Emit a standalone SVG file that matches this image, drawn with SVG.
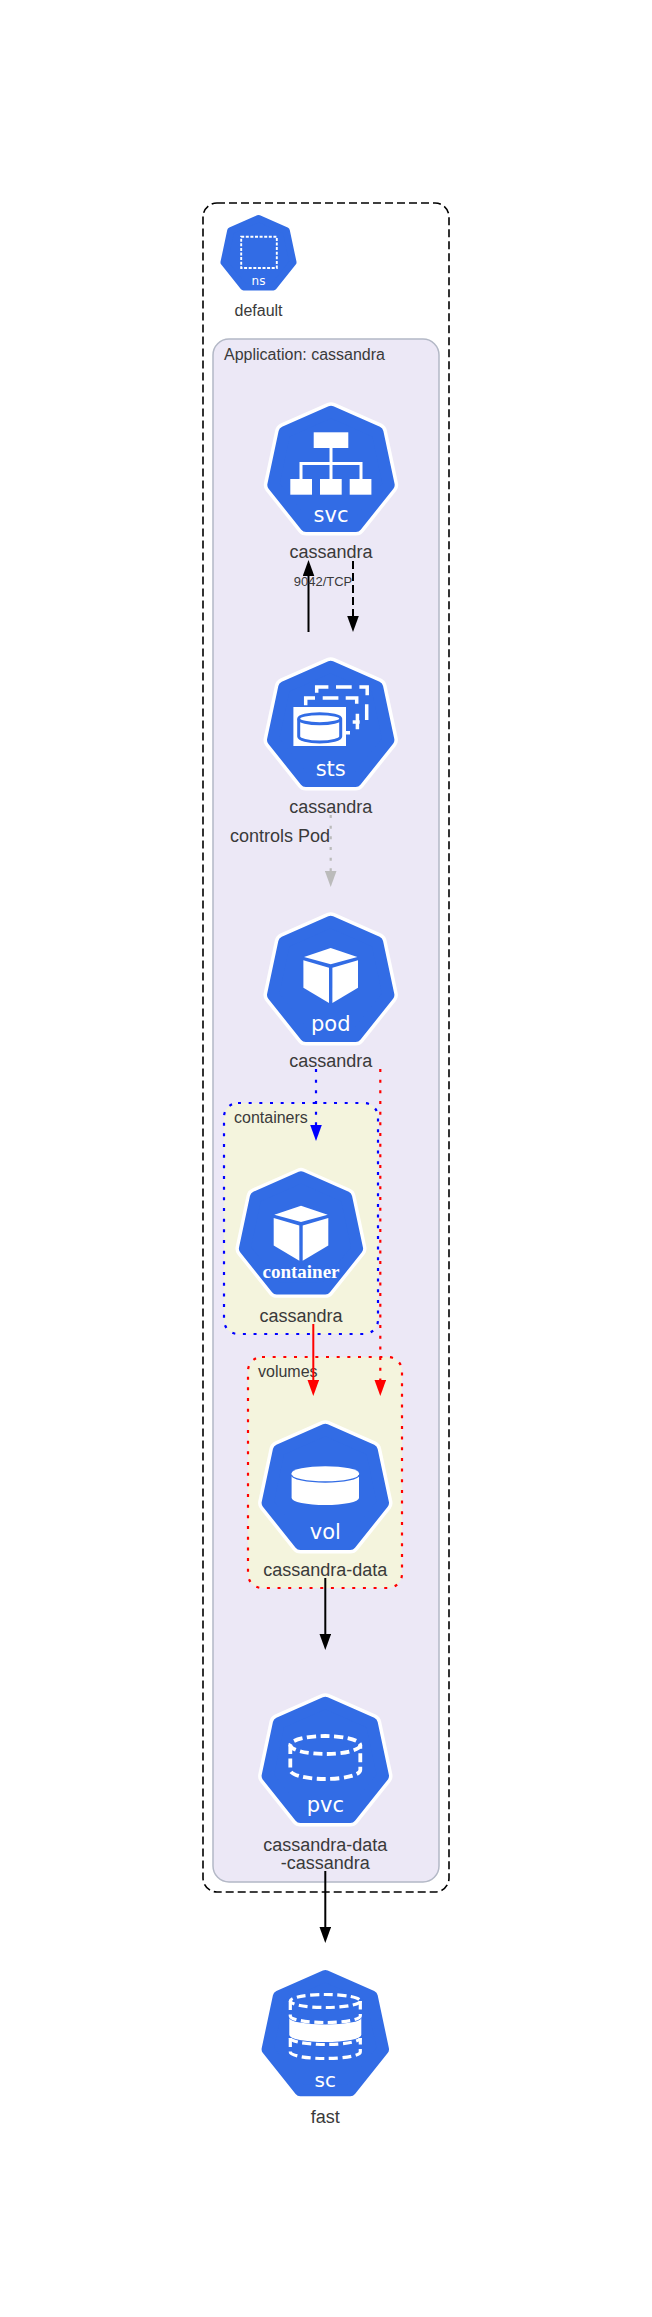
<svg xmlns="http://www.w3.org/2000/svg" xmlns:xlink="http://www.w3.org/1999/xlink" width="652" height="2317" viewBox="0 0 652 2317">
<style>
text{font-family:"Liberation Sans",Arial,sans-serif;fill:#3a3a3a}
.lbl{font-size:18px;text-anchor:middle}
.clbl{font-size:16px}
.ico{font-family:"DejaVu Sans",sans-serif;font-size:21px;fill:#fff;text-anchor:middle}
.w{fill:#fff;stroke:none}
.ln{fill:none;stroke:#fff;stroke-width:3}
.dl{fill:none;stroke:#fff;stroke-width:3.5}
.dsh{fill:none;stroke:#fff;stroke-width:3.8;stroke-dasharray:9 4.5}
.cn{fill:none;stroke-width:2}
.dot{stroke-width:2.2;stroke-dasharray:3 7.67}
</style>
<defs>
<polygon id="hb" points="0,9.7 46.5,30.2 57.7,83 25,124 -25,124 -57.7,83 -46.5,30.2" fill="#326ce5" stroke="#326ce5" stroke-width="12" stroke-linejoin="round"/>
<polygon id="hw" points="0,9.7 46.5,30.2 57.7,83 25,124 -25,124 -57.7,83 -46.5,30.2" fill="#fff" stroke="#fff" stroke-width="19" stroke-linejoin="round"/>
<g id="cube">
<polygon class="w" points="0,36 26.7,45 0,52.3 -26.7,45"/>
<polygon class="w" points="-27.3,48.3 -1.7,55.7 -1.7,91 -27.3,75.7"/>
<polygon class="w" points="27.3,48.3 1.7,55.7 1.7,91 27.3,75.7"/>
</g>
<marker id="ak" markerUnits="userSpaceOnUse" markerWidth="16" markerHeight="12" refX="1" refY="6" orient="auto"><path d="M0,0.2 L16,6 L0,11.8Z" fill="#000"/></marker>
<marker id="ag" markerUnits="userSpaceOnUse" markerWidth="16" markerHeight="12" refX="1" refY="6" orient="auto"><path d="M0,0.2 L16,6 L0,11.8Z" fill="#bbb"/></marker>
<marker id="ab" markerUnits="userSpaceOnUse" markerWidth="16" markerHeight="12" refX="1" refY="6" orient="auto"><path d="M0,0.2 L16,6 L0,11.8Z" fill="#00f"/></marker>
<marker id="ar" markerUnits="userSpaceOnUse" markerWidth="16" markerHeight="12" refX="1" refY="6" orient="auto"><path d="M0,0.2 L16,6 L0,11.8Z" fill="#f00"/></marker>
</defs>
<rect width="652" height="2317" fill="#fff"/>
<g id="clusters">
<g id="cluster-default"><rect x="203" y="203" width="246" height="1689" rx="14" fill="#fff" stroke="#000" stroke-width="1.6" stroke-dasharray="8 4"/></g>
<g id="cluster-app"><rect x="213" y="339" width="226" height="1543" rx="16" fill="#ece8f6" stroke="#b3b8c6" stroke-width="1.5"/>
<text class="clbl" x="224" y="360">Application: cassandra</text></g>
<g id="cluster-containers"><rect x="224" y="1103" width="154" height="231" rx="14" fill="#f4f4dd" stroke="#00f" stroke-width="2.2" stroke-dasharray="3 7.67"/>
<text class="clbl" x="234" y="1123">containers</text></g>
<g id="cluster-volumes"><rect x="248" y="1357" width="154" height="231" rx="14" fill="#f4f4dd" stroke="#f00" stroke-width="2.2" stroke-dasharray="3 7.67"/>
<text class="clbl" x="258" y="1377">volumes</text></g>
</g>
<g id="connectors">
<path class="cn" stroke="#000" d="M308.5,632V575" marker-end="url(#ak)"/>
<path class="cn" stroke="#000" stroke-dasharray="8 4" d="M353,561V617" marker-end="url(#ak)"/>
<path class="cn dot" stroke="#bbb" d="M330.7,815V872" marker-end="url(#ag)"/>
<path class="cn dot" stroke="#00f" d="M316,1069V1126" marker-end="url(#ab)"/>
<path class="cn dot" stroke="#f00" d="M380.3,1069V1381" marker-end="url(#ar)"/>
<path class="cn" stroke="#f00" d="M313.3,1324V1381" marker-end="url(#ar)"/>
<path class="cn" stroke="#000" d="M325.3,1578V1635" marker-end="url(#ak)"/>
<path class="cn" stroke="#000" d="M325.3,1871V1928" marker-end="url(#ak)"/>
<text x="323" y="586" font-size="13" text-anchor="middle">9042/TCP</text>
<text x="230" y="842" font-size="18">controls Pod</text>
</g>
<g id="node-ns" transform="translate(258.5,215)">
<use xlink:href="#hb" href="#hb" transform="translate(0,-2.2) scale(.597)"/>
<rect x="-17.3" y="21.7" width="35.6" height="31.3" fill="none" stroke="#fff" stroke-width="1.9" stroke-dasharray="3 1.6"/>
<text class="ico" y="70" style="font-size:12px">ns</text>
<text class="lbl" y="101" style="font-size:16px">default</text>
</g>
<g id="node-svc" transform="translate(331,402)">
<use xlink:href="#hw" href="#hw"/><use xlink:href="#hb" href="#hb"/>
<rect class="w" x="-17.3" y="30.3" width="34.6" height="15.7"/>
<rect class="w" x="-40.7" y="77" width="21.7" height="15.7"/>
<rect class="w" x="-11" y="77" width="21.7" height="15.7"/>
<rect class="w" x="18.7" y="77" width="21.7" height="15.7"/>
<path class="ln" d="M0,46V77M-30,77V61.5H30V77"/>
<text class="ico" y="120">svc</text>
<text class="lbl" y="156">cassandra</text>
</g>
<g id="node-sts" transform="translate(330.7,657)">
<use xlink:href="#hw" href="#hw"/><use xlink:href="#hb" href="#hb"/>
<path class="dl" d="M-14,35.7V30H-2.3M5.3,30H21M28.7,30H36.5V38.3M36,47.3V63M-25,48.3V41H-15.7M-8,41H7.7M15,41H26V46.7M26.7,56.7V72.3M22,65H29M15,75.7H19.3"/>
<rect class="w" x="-37.3" y="50" width="52.6" height="39"/>
<path d="M-32,61.7V79.5A21,5.5 0 0 0 10,79.5V61.7" fill="#fff" stroke="#326ce5" stroke-width="3"/>
<ellipse cx="-11" cy="61.7" rx="21" ry="5" fill="#fff" stroke="#326ce5" stroke-width="3"/>
<text class="ico" y="119">sts</text>
<text class="lbl" y="156">cassandra</text>
</g>
<g id="node-pod" transform="translate(330.7,912)">
<use xlink:href="#hw" href="#hw"/><use xlink:href="#hb" href="#hb"/>
<use xlink:href="#cube" href="#cube"/>
<text class="ico" y="119">pod</text>
<text class="lbl" y="155">cassandra</text>
</g>
<g id="node-container" transform="translate(301,1167.7)">
<use xlink:href="#hw" href="#hw" transform="scale(.975)"/><use xlink:href="#hb" href="#hb" transform="scale(.975)"/>
<use xlink:href="#cube" href="#cube" y="2"/>
<text y="110" text-anchor="middle" style="font-family:'Liberation Serif',serif;font-size:19px;font-weight:bold;fill:#fff">container</text>
<text class="lbl" y="154">cassandra</text>
</g>
<g id="node-vol" transform="translate(325.3,1420)">
<use xlink:href="#hw" href="#hw"/><use xlink:href="#hb" href="#hb"/>
<path class="w" d="M-33.7,54V78A33.7,7 0 0 0 33.7,78V54Z"/>
<path d="M-33.7,55A33.7,7 0 0 0 33.7,55" fill="none" stroke="#326ce5" stroke-width="1.3"/>
<ellipse class="w" cx="0" cy="53.3" rx="33.7" ry="7"/>
<text class="ico" y="119">vol</text>
<text class="lbl" y="156">cassandra-data</text>
</g>
<g id="node-pvc" transform="translate(325.3,1693)">
<use xlink:href="#hw" href="#hw"/><use xlink:href="#hb" href="#hb"/>
<ellipse class="dsh" cx="0" cy="52" rx="35" ry="9"/>
<path class="dsh" d="M-35,52V77A35,9 0 0 0 35,77V52"/>
<text class="ico" y="119">pvc</text>
<text class="lbl" y="158">cassandra-data</text>
<text class="lbl" y="176">-cassandra</text>
</g>
<g id="node-sc" transform="translate(325.3,1970)">
<use xlink:href="#hb" href="#hb" transform="translate(0,-3.7)"/>
<ellipse class="dsh" cx="0" cy="31" rx="35" ry="6.5" style="stroke-width:3.2"/>
<path class="dsh" style="stroke-width:3.2" d="M-35,31V46A35,6.5 0 0 0 35,46V31"/>
<path class="w" d="M-36,48A36,6.5 0 0 0 36,48V65A36,7 0 0 1 -36,65Z"/>
<path class="dsh" style="stroke-width:3.2" d="M-35,68A35,6.5 0 0 0 35,68"/>
<path class="dsh" style="stroke-width:3.2" d="M-35,68V82A35,6.5 0 0 0 35,82V68"/>
<text class="ico" y="116.7" style="font-size:20px">sc</text>
<text class="lbl" y="153">fast</text>
</g>
</svg>
